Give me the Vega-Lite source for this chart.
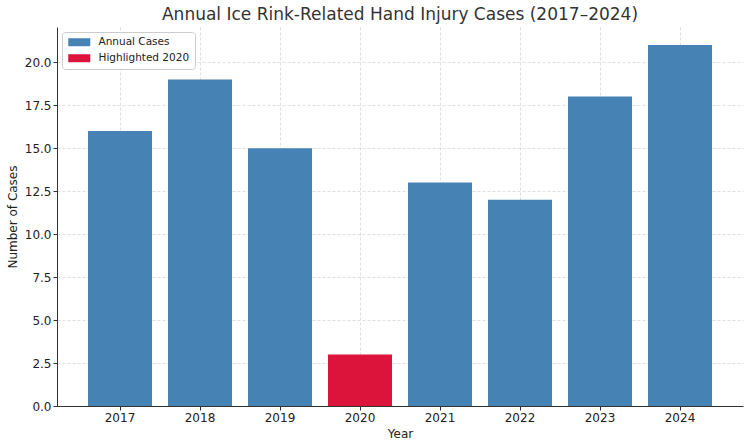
{
  "$schema": "https://vega.github.io/schema/vega-lite/v6.json",
  "width": 686,
  "height": 379,
  "autosize": {"type": "none"},
  "padding": {"left": 57, "top": 27, "right": 7, "bottom": 41},
  "background": "white",
  "title": {
    "text": "Annual Ice Rink-Related Hand Injury Cases (2017–2024)",
    "font": "DejaVu Sans",
    "fontSize": 17,
    "fontWeight": "normal",
    "color": "#333333",
    "offset": 3
  },
  "config": {
    "view": {"stroke": null},
    "font": "DejaVu Sans",
    "axis": {
      "labelFont": "DejaVu Sans",
      "titleFont": "DejaVu Sans",
      "labelFontSize": 12,
      "titleFontSize": 12,
      "titleFontWeight": "normal",
      "labelColor": "#222222",
      "titleColor": "#222222",
      "domainColor": "#333333",
      "tickColor": "#333333",
      "tickSize": 4,
      "gridColor": "#d5d5d5",
      "gridDash": [3, 2],
      "gridWidth": 0.8,
      "zindex": 1
    }
  },
  "data": {
    "values": [
      {"year": "2017", "cases": 16, "series": "Annual Cases"},
      {"year": "2018", "cases": 19, "series": "Annual Cases"},
      {"year": "2019", "cases": 15, "series": "Annual Cases"},
      {"year": "2020", "cases": 3, "series": "Highlighted 2020"},
      {"year": "2021", "cases": 13, "series": "Annual Cases"},
      {"year": "2022", "cases": 12, "series": "Annual Cases"},
      {"year": "2023", "cases": 18, "series": "Annual Cases"},
      {"year": "2024", "cases": 21, "series": "Annual Cases"}
    ]
  },
  "mark": {"type": "bar"},
  "encoding": {
    "x": {
      "field": "year",
      "type": "ordinal",
      "title": "Year",
      "scale": {"paddingInner": 0.2, "paddingOuter": 0.3875},
      "axis": {
        "labelAngle": 0,
        "grid": true,
        "bandPosition": 0.5,
        "labelPadding": 2,
        "titlePadding": 5
      }
    },
    "y": {
      "field": "cases",
      "type": "quantitative",
      "title": "Number of Cases",
      "scale": {"domain": [0, 22.05], "nice": false, "zero": true},
      "axis": {
        "values": [0, 2.5, 5, 7.5, 10, 12.5, 15, 17.5, 20],
        "format": ".1f",
        "grid": true,
        "labelPadding": 2,
        "titlePadding": 5
      }
    },
    "color": {
      "field": "series",
      "type": "nominal",
      "scale": {
        "domain": ["Annual Cases", "Highlighted 2020"],
        "range": ["#4682B4", "#DC143C"]
      },
      "legend": {
        "title": null,
        "orient": "top-left",
        "offset": 5,
        "padding": 5,
        "strokeColor": "#cccccc",
        "fillColor": "white",
        "cornerRadius": 3,
        "symbolType": "M-1,-1L4.5,-1L4.5,1L-1,1Z",
        "symbolSize": 64,
        "symbolStrokeWidth": 0,
        "symbolOpacity": 1,
        "labelFont": "DejaVu Sans",
        "labelFontSize": 10.5,
        "labelOffset": 21,
        "labelColor": "#222222",
        "rowPadding": 5,
        "zindex": 2
      }
    }
  }
}
